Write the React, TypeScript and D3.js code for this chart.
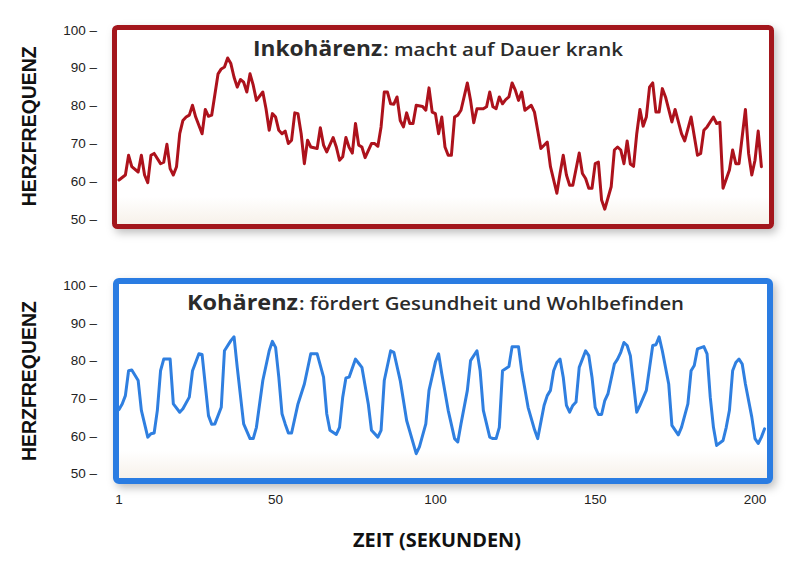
import React, { useRef, useEffect } from 'react';
import * as d3 from 'd3';

// heart rate traces (time in seconds, rate in bpm)
const incoherentTime = [
  1, 3, 4, 5, 7, 8, 9, 10, 11, 12, 14, 15, 16, 17, 18, 19, 20, 21, 22, 23, 24, 25, 27, 28, 29, 30,
  32, 33, 34, 35, 36, 37, 38, 39, 40, 41, 42, 43, 44, 46, 47, 48, 49, 50, 51, 52, 53, 54, 55, 56,
  57, 58, 59, 60, 61, 63, 64, 65, 66, 68, 69, 70, 71, 72, 73, 74, 75, 76, 77, 78, 80, 81, 82, 83,
  84, 85, 86, 87, 88, 89, 90, 91, 92, 93, 94, 96, 97, 98, 99, 100, 101, 102, 103, 104, 105, 106,
  107, 108, 110, 111, 112, 113, 115, 116, 117, 118, 119, 120, 121, 122, 123, 124, 125, 126, 127,
  128, 130, 131, 132, 133, 135, 136, 138, 139, 140, 141, 142, 143, 145, 146, 147, 148, 149, 150,
  151, 152, 153, 155, 156, 157, 158, 159, 160, 161, 162, 163, 164, 165, 166, 167, 168, 169, 170,
  171, 172, 174, 175, 177, 178, 180, 182, 183, 184, 185, 187, 188, 189, 190, 192, 193, 194, 195,
  197, 198, 199, 200, 201, 202,
];
const incoherentRate = [
  60.3, 61.6, 66.8, 63.8, 62.4, 66.8, 61.6, 59.6, 66.8, 67.3, 64.6, 65, 69.7, 63.3, 61.6, 63.8,
  72.5, 76, 76.9, 77.4, 80, 76.9, 72.5, 78.9, 77.1, 77.4, 88.3, 89.6, 90.1, 92.5, 91, 87.4, 84.8,
  86.8, 86.1, 83.5, 88.3, 85.3, 81.3, 83.5, 79.1, 73.4, 77.8, 76.9, 73.4, 72.5, 73.2, 69.9, 70.8,
  78, 77.8, 72.5, 64.6, 70.8, 69, 68.6, 74.1, 69.5, 67.7, 71.5, 69, 65.5, 66.4, 71.5, 68.9, 67.4,
  75.2, 69.5, 69, 66.2, 69.9, 69.9, 69.2, 74.3, 83.5, 83.5, 80.4, 80.3, 82.2, 76, 74.3, 78, 75.2,
  75.2, 80, 79.7, 78.7, 84.6, 78.2, 77.8, 72.5, 76.9, 69, 66.8, 66.8, 76.9, 77.4, 78.7, 85.9, 81.3,
  75.4, 79.1, 79.1, 79.6, 83.5, 79.6, 79.1, 82.2, 80.4, 81.5, 82.2, 85.9, 84, 81.3, 83.5, 78.7, 80,
  78.2, 73.4, 68.6, 70.3, 63.8, 56.8, 62, 66.8, 61.6, 58.9, 58.9, 67.4, 62, 60.7, 58.1, 58.1, 64.6,
  65, 55, 52.6, 58.5, 68.2, 69, 68.2, 64.6, 70.6, 64.5, 63.9, 72.5, 78.9, 74.5, 76.9, 84.8, 85.9,
  78.2, 78.2, 84.4, 82.2, 75.6, 78.9, 72.5, 70.6, 76.9, 66.8, 67.3, 73.4, 74.3, 76.9, 75.2, 75.5,
  58.1, 62.9, 68.2, 64.6, 64.6, 78.9, 67.3, 61.6, 65.5, 73.2, 63.8,
];

const coherentTime = [
  1, 2, 3, 4, 5, 7, 8, 10, 11, 12, 13, 14, 15, 17, 18, 20, 21, 23, 24, 26, 27, 29, 30, 31, 33, 34,
  36, 37, 38, 40, 42, 43, 44, 46, 48, 49, 50, 51, 52, 53, 54, 55, 57, 59, 61, 63, 65, 66, 67, 69,
  70, 71, 72, 73, 75, 76, 77, 79, 80, 82, 83, 84, 86, 87, 89, 91, 94, 95, 97, 98, 100, 101, 102,
  104, 106, 107, 108, 110, 111, 113, 114, 115, 117, 118, 119, 120, 121, 123, 124, 126, 127, 129,
  131, 132, 134, 135, 136, 137, 138, 139, 140, 141, 142, 143, 144, 145, 147, 148, 149, 150, 151,
  152, 153, 154, 156, 157, 158, 159, 160, 161, 162, 163, 164, 166, 168, 169, 170, 171, 173, 174,
  176, 177, 179, 180, 181, 182, 184, 185, 186, 187, 188, 190, 191, 192, 193, 194, 195, 196, 197,
  199, 200, 201, 202, 203,
];
const coherentRate = [
  66.9, 68.4, 70.6, 77.2, 77.4, 74.6, 66.7, 59.6, 60.5, 60.7, 66.7, 77.2, 80.3, 80.3, 68.4, 66.2,
  67.1, 70.2, 77.2, 81.7, 81.5, 65.3, 63, 63.1, 67.5, 82.5, 85.2, 86.2, 78.1, 63.1, 59.2, 59.2,
  62.2, 74.6, 82.5, 85, 83.4, 75.5, 65.8, 63.1, 60.7, 60.7, 68.4, 73.7, 81.7, 81.7, 75.5, 65.8,
  61.4, 60.3, 62.2, 70.2, 75.3, 75.5, 80.3, 79.2, 78.1, 68.4, 61.4, 59.6, 61.4, 74.6, 82.5, 82.1,
  74.6, 64, 55.2, 57, 63.1, 72, 79.5, 81.7, 76.4, 66.7, 59.2, 58.3, 63.1, 72, 79.9, 82.5, 77.2,
  66.7, 59.6, 59.2, 59.2, 62.2, 77.2, 78.3, 83.6, 83.6, 77.2, 67.5, 61.6, 59.2, 68, 70.6, 72, 77.2,
  79.4, 80.3, 75.5, 68, 66.2, 68, 68.9, 78.1, 82.5, 81.2, 75.5, 67.5, 65.6, 65.6, 69.3, 71.1, 79,
  80.3, 82.1, 84.7, 83.9, 81.2, 73.7, 66.2, 68, 72, 83.9, 84.1, 86.2, 82.5, 73.7, 62.7, 60.2, 62.2,
  68.4, 77.2, 78.6, 83, 83.6, 81.7, 70.2, 62.2, 57.4, 58.7, 62.2, 66.7, 77.2, 79.4, 80.3, 79, 73.7,
  64.9, 59.2, 57.9, 59.6, 61.8,
];

const yTicks = [50, 60, 70, 80, 90, 100];
const xTicks = [1, 50, 100, 150, 200];

const panels = [
  {
    key: 'top', time: incoherentTime, rate: incoherentRate,
    head: 'Inkohärenz', tail: ': macht auf Dauer krank',
    frame: '#a3181f', line: '#ad121c',
    box: [114.5, 27.5, 657, 199], yRange: [219, 29.5],
    // title: left x, baseline, widths of the two parts
    title: [253, 56, 129, 240],
  },
  {
    key: 'bottom', time: coherentTime, rate: coherentRate,
    head: 'Kohärenz', tail: ': fördert Gesundheit und Wohlbefinden',
    frame: '#2a7ce2', line: '#2f7fe0',
    box: [116, 281, 654, 200], yRange: [473.3, 284.8],
    title: [187, 310, 111, 385],
  },
];

const App = () => {
  const svgRef = useRef<SVGSVGElement>(null);

  useEffect(() => {
    const width = 800;
    const height = 574;
    const svg = d3.select(svgRef.current)
      .attr('width', width)
      .attr('height', height)
      .attr('viewBox', [0, 0, width, height]);
    svg.selectAll('*').remove();

    const defs = svg.append('defs');
    defs.append('filter')
      .attr('id', 'shadow')
      .attr('x', '-10%').attr('y', '-10%').attr('width', '120%').attr('height', '130%')
      .append('feDropShadow')
      .attr('dx', 3).attr('dy', 4).attr('stdDeviation', 4)
      .attr('flood-color', '#000').attr('flood-opacity', 0.25);
    const grad = defs.append('linearGradient')
      .attr('id', 'paper').attr('x1', 0).attr('x2', 0).attr('y1', 0).attr('y2', 1);
    grad.append('stop').attr('offset', '85%').attr('stop-color', '#ffffff');
    grad.append('stop').attr('offset', '100%').attr('stop-color', '#f6f0e8');

    const x = d3.scaleLinear().domain([1, 200]).range([119, 755]);

    panels.forEach((p) => {
      const y = d3.scaleLinear().domain([50, 100]).range(p.yRange);
      const g = svg.append('g');
      const [bx, by, bw, bh] = p.box;

      g.append('rect')
        .attr('x', bx).attr('y', by).attr('width', bw).attr('height', bh)
        .attr('rx', 3)
        .attr('fill', 'url(#paper)')
        .attr('stroke', p.frame)
        .attr('stroke-width', p.key === 'top' ? 5 : 6)
        .attr('filter', 'url(#shadow)');

      // y ticks drawn as "100 –" like the original
      g.append('g')
        .attr('font-family', '"Liberation Sans", Arial, sans-serif')
        .attr('font-size', 13.5)
        .attr('fill', '#222')
        .attr('text-anchor', 'end')
        .selectAll('text')
        .data(yTicks)
        .join('text')
        .attr('x', 97)
        .attr('y', (d) => y(d) + 5)
        .text((d) => `${d} –`);

      g.append('text')
        .attr('transform', `translate(36,${(p.yRange[0] + p.yRange[1]) / 2 + 2}) rotate(-90)`)
        .attr('text-anchor', 'middle')
        .attr('font-family', '"Liberation Sans", Arial, sans-serif')
        .attr('font-weight', 'bold')
        .attr('font-size', 20)
        .attr('textLength', 160)
        .attr('lengthAdjust', 'spacingAndGlyphs')
        .attr('fill', '#111')
        .text('HERZFREQUENZ');

      const [tx, ty, headW, tailW] = p.title;
      g.append('text')
        .attr('x', tx).attr('y', ty)
        .attr('font-family', '"Open Sans", sans-serif')
        .attr('font-weight', 700)
        .attr('font-size', 21)
        .attr('textLength', headW)
        .attr('lengthAdjust', 'spacingAndGlyphs')
        .attr('fill', '#2b2b2b')
        .text(p.head);
      g.append('text')
        .attr('x', tx + headW + 1).attr('y', ty)
        .attr('font-family', '"Open Sans", sans-serif')
        .attr('font-weight', 600)
        .attr('font-size', 18)
        .attr('textLength', tailW)
        .attr('lengthAdjust', 'spacingAndGlyphs')
        .attr('fill', '#2b2b2b')
        .text(p.tail);

      const line = d3.line<number>()
        .x((d, i) => x(p.time[i]))
        .y((d) => y(d));

      g.append('path')
        .datum(p.rate)
        .attr('fill', 'none')
        .attr('stroke', p.line)
        .attr('stroke-width', 3)
        .attr('stroke-linejoin', 'round')
        .attr('stroke-linecap', 'round')
        .attr('d', line);
    });

    svg.append('g')
      .attr('font-family', '"Liberation Sans", Arial, sans-serif')
      .attr('font-size', 13.5)
      .attr('fill', '#222')
      .attr('text-anchor', 'middle')
      .selectAll('text')
      .data(xTicks)
      .join('text')
      .attr('x', (d) => x(d))
      .attr('y', 504)
      .text((d) => d);

    svg.append('text')
      .attr('x', 437).attr('y', 547)
      .attr('text-anchor', 'middle')
      .attr('font-family', '"Open Sans", sans-serif')
      .attr('font-weight', 'bold')
      .attr('font-size', 20)
      .attr('textLength', 168)
      .attr('lengthAdjust', 'spacingAndGlyphs')
      .attr('fill', '#111')
      .text('ZEIT (SEKUNDEN)');
  }, []);

  return (
    <svg ref={svgRef} style={{ position: 'absolute', left: 0, top: 0, background: '#fff' }} />
  );
};

export default App;
